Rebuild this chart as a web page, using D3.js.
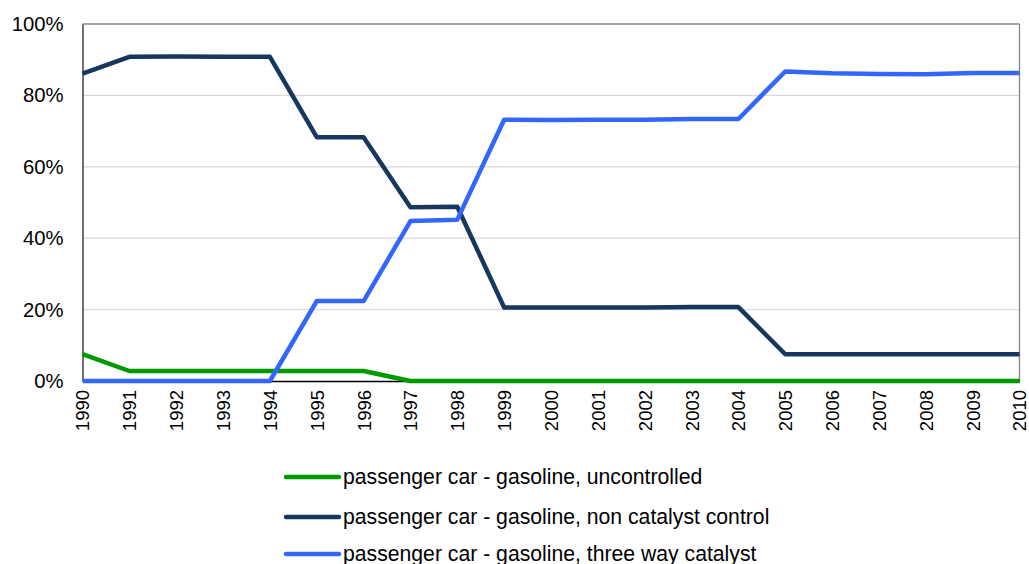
<!DOCTYPE html>
<html><head><meta charset="utf-8">
<script src="https://cdn.jsdelivr.net/npm/d3@7"></script>
<style>body{margin:0;background:#fff;}svg{display:block;}</style>
</head><body>
<svg id="c" width="1029" height="564"></svg>
<script>
const years = ["1990","1991","1992","1993","1994","1995","1996","1997","1998","1999","2000","2001","2002","2003","2004","2005","2006","2007","2008","2009","2010"];
const uncontrolled = [7.5,2.8,2.8,2.8,2.8,2.8,2.8,0,0,0,0,0,0,0,0,0,0,0,0,0,0];
const nonCatalyst = [86.1,90.8,90.9,90.8,90.8,68.3,68.3,48.7,48.8,20.6,20.6,20.6,20.6,20.7,20.7,7.5,7.5,7.5,7.5,7.5,7.5];
const threeWay = [0,0,0,0,0,22.4,22.4,44.8,45.2,73.2,73.1,73.2,73.2,73.4,73.4,86.7,86.2,86.0,85.9,86.3,86.3];
const seriesNames = ["passenger car - gasoline, uncontrolled","passenger car - gasoline, non catalyst control","passenger car - gasoline, three way catalyst"];
const seriesColors = ["#009900","#17375E","#3366FF"];
const yTicks = [0,20,40,60,80,100];

const svg = d3.select("#c");
const L = 82.5, R = 1019.5, T = 24, B = 381;
const x = d3.scalePoint().domain(years).range([L, R]);
const y = d3.scaleLinear().domain([0,100]).range([B, T]);
const font = "'Liberation Sans', Arial, sans-serif";

// gridlines
svg.append("g").selectAll("line").data(yTicks.filter(d=>d>0 && d<100)).join("line")
  .attr("x1", L).attr("x2", R).attr("y1", d=>y(d)).attr("y2", d=>y(d))
  .attr("stroke", "#d9d9d9").attr("stroke-width", 1.2);
// frame top & right
svg.append("line").attr("x1", L).attr("x2", R).attr("y1", T).attr("y2", T).attr("stroke", "#868686").attr("stroke-width", 1.3);
svg.append("line").attr("x1", R).attr("x2", R).attr("y1", T).attr("y2", B).attr("stroke", "#868686").attr("stroke-width", 1.3);

// y axis
const yAxis = svg.append("g").attr("transform", `translate(${L},0)`)
  .call(d3.axisLeft(y).tickValues(yTicks).tickSize(0).tickPadding(19).tickFormat(d=>d+"%"));
yAxis.select(".domain").attr("stroke", "#404040").attr("stroke-width", 1.5);
yAxis.selectAll("text").attr("font-family", font).attr("font-size", 20.3).attr("fill", "#000");

// x axis
const xAxis = svg.append("g").attr("transform", `translate(0,${B})`)
  .call(d3.axisBottom(x).tickSize(0).tickPadding(0));
xAxis.select(".domain").attr("stroke", "#000").attr("stroke-width", 1.3);
xAxis.selectAll("text").attr("font-family", font).attr("font-size", 18.5).attr("fill", "#000")
  .attr("transform", "rotate(-90)").attr("text-anchor", "end").attr("dy", "0.35em").attr("x", -9).attr("y", 0);

const line = d3.line().x((d,i)=>x(years[i])).y(d=>y(d));
[uncontrolled, nonCatalyst, threeWay].forEach((s,i)=>{
  svg.append("path").attr("d", line(s)).attr("fill","none")
    .attr("stroke", seriesColors[i]).attr("stroke-width", 4.5).attr("stroke-linejoin","round");
});

// legend
const legY = [477, 517, 554];
seriesNames.forEach((n,i)=>{
  svg.append("line").attr("x1", 286).attr("x2", 339).attr("y1", legY[i]).attr("y2", legY[i])
    .attr("stroke", seriesColors[i]).attr("stroke-width", 4.5).attr("stroke-linecap","round");
  svg.append("text").attr("x", 343).attr("y", legY[i]).attr("dy","0.35em")
    .attr("font-family", font).attr("font-size", 21.2).attr("fill","#000").text(n);
});
</script>
</body></html>
